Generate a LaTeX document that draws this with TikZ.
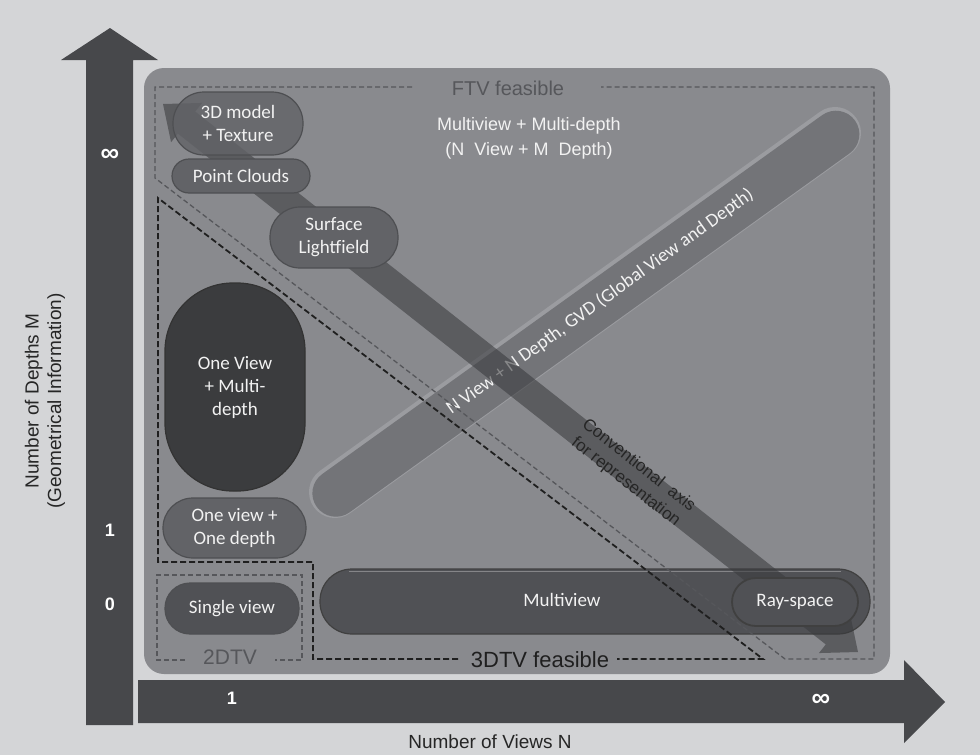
\documentclass[tikz,border=0pt]{standalone}
\usepackage{fontspec}
\setmainfont{Liberation Sans}
\newfontfamily\calib{Carlito}
\usetikzlibrary{calc}
\definecolor{bgc}{HTML}{D4D5D7}
\definecolor{axisc}{HTML}{47484B}
\definecolor{panelc}{HTML}{898A8E}
\definecolor{pillfill}{HTML}{626367}
\definecolor{pilledge}{HTML}{4E4F52}
\definecolor{darkfill}{HTML}{3B3C3E}
\definecolor{barfill}{HTML}{505155}
\definecolor{gvdfill}{HTML}{737478}
\definecolor{gvdedge}{HTML}{9B9CA0}
\definecolor{bandc}{HTML}{3A3B3E}
\definecolor{ftvc}{HTML}{56575B}
\definecolor{txtw}{HTML}{F2F2F2}
\definecolor{labc}{HTML}{262626}
\begin{document}
\begin{tikzpicture}[x=1pt,y=-1pt,
  pill/.style={draw=pilledge, line width=1.2pt, fill=pillfill, inner sep=0pt,
    align=center, text=txtw, font=\calib\fontsize{19}{23}\selectfont},
  ftvline/.style={draw=ftvc, line width=1.3pt, dash pattern=on 5pt off 3pt},
  tdline/.style={draw=black!88, line width=1.8pt, dash pattern=on 6pt off 3pt},
  axisnum/.style={text=white, font=\bfseries\fontsize{18}{20}\selectfont},
  infnum/.style={text=white, font=\bfseries\fontsize{26}{28}\selectfont},
  axlabel/.style={text=labc, font=\fontsize{19}{22.5}\selectfont, align=center}]
\useasboundingbox (0,0) rectangle (980,755);
\fill[bgc] (0,0) rectangle (980,755);

% axes
\fill[axisc] (86,725) -- (86,60) -- (61,60) -- (110,28) -- (158,60) -- (133,60) -- (133,725) -- cycle;
\fill[axisc] (138,680) -- (904,680) -- (904,660) -- (945,702) -- (904,743) -- (904,723) -- (138,723) -- cycle;
\node[infnum] (yinf) at (110,155) {∞};
\node[axisnum] (yone) at (110,530) {1};
\node[axisnum] (yzero) at (110,604) {0};
\node[axisnum] (xone) at (232,698) {1};
\node[infnum] (xinf) at (821,700) {∞};
\node[axlabel] (xlab) at (490,742) {Number of Views N};
\node[axlabel, rotate=90] (ylab) at (45,401) {Number of Depths M\\(Geometrical Information)};

% panel
\fill[panelc, rounded corners=20pt] (144,68) rectangle (890,674);

% multiview bar
\node[draw=black!75, line width=1.2pt, fill=barfill, inner sep=0pt, minimum width=550pt,
  minimum height=65pt, rounded corners=32pt] (mv) at (595,601.5) {};
\draw[white!30!barfill, line width=1.5pt] ([xshift=30pt,yshift=-3pt]mv.north west) -- ([xshift=-30pt,yshift=-3pt]mv.north east);
\node[text=txtw, font=\calib\fontsize{19}{23}\selectfont] (mvt) at (562,600) {Multiview};

% GVD bar
\coordinate (g1) at (335,492);
\coordinate (g2) at (835,133);
\draw[gvdedge, line width=52pt, line cap=round] (g1) -- (g2);
\draw[gvdfill, line width=47pt, line cap=round] ($(g1)!1.5pt!-90:(g2)$) -- ($(g2)!1.5pt!90:(g1)$);
\node[rotate=35.7, text=txtw, font=\calib\fontsize{19}{23}\selectfont] (gvdt) at ($(g1)!0.53!(g2)$)
  {N View + N Depth, GVD (Global View and Depth)};

% conventional axis band
\coordinate (ca1) at (163,104);
\coordinate (ca2) at (858,652);
\coordinate (h1) at ($(ca1)!30pt!(ca2)$);
\coordinate (h2) at ($(ca2)!30pt!(ca1)$);
\fill[bandc, opacity=0.58] (ca1) -- ($(h1)!25pt!90:(ca2)$) -- ($(h1)!14pt!90:(ca2)$)
  -- ($(h2)!14pt!90:(ca2)$) -- ($(h2)!25pt!90:(ca2)$) -- (ca2)
  -- ($(h2)!25pt!-90:(ca2)$) -- ($(h2)!14pt!-90:(ca2)$)
  -- ($(h1)!14pt!-90:(ca2)$) -- ($(h1)!25pt!-90:(ca2)$) -- cycle;
\node[rotate=-38.26, align=center, text=labc, font=\fontsize{17}{21}\selectfont] (cat)
  at ($(ca1)!0.675!(ca2)$) {Conventional~ axis\\for representation};

% nodes
\node[pill, fill opacity=0.82, text opacity=1, minimum width=130pt, minimum height=63pt, rounded corners=31pt] (tdm) at (238,123.5) {3D model\\+ Texture};
\node[pill, minimum width=138pt, minimum height=34pt, rounded corners=17pt] (pc) at (241,176) {Point Clouds};
\node[pill, minimum width=128pt, minimum height=61pt, rounded corners=30pt] (sl) at (334,237.5) {Surface\\Lightfield};
\node[pill, fill=darkfill, draw=black!80, minimum width=140pt, minimum height=208pt, rounded corners=68pt] (ovmd) at (235,387) {One View\\+ Multi-\\depth};
\node[pill, minimum width=143pt, minimum height=60pt, rounded corners=30pt] (ovod) at (234.5,528) {One view +\\One depth};
\node[pill, fill=barfill, minimum width=134pt, minimum height=51pt, rounded corners=25pt] (sv) at (232,608.5) {Single view};
\node[pill, fill=barfill, draw=black!75, line width=1.8pt, minimum width=126pt, minimum height=48pt, rounded corners=24pt] (rs) at (795,602) {Ray-space};

% FTV feasible region
\draw[ftvline] (412,87) -- (155,87) -- (155,178) -- (785,659) -- (874,659) -- (874,87) -- (601,87);
\node[text=ftvc, font=\fontsize{20}{24}\selectfont] (ftvt) at (508,88) {FTV feasible};

% 3DTV feasible region
\draw[tdline] (458,659) -- (313,659) -- (313,562) -- (158,562) -- (158,198) -- (763,659) -- (617,659);
\node[text=black!88, font=\fontsize{22}{26}\selectfont] (tdt) at (540,660) {3DTV feasible};

% 2DTV region
\draw[ftvline] (185,660) -- (157,660) -- (157,575) -- (302,575) -- (302,660) -- (275,660);
\node[text=ftvc, font=\fontsize{21}{25}\selectfont] (twt) at (230,657) {2DTV};

% multiview + multi-depth text
\node[text=txtw, align=center, font=\fontsize{18}{25}\selectfont] (mvmd) at (529,138) {Multiview + Multi-depth\\(N\ \ View + M\ \ Depth)};
\end{tikzpicture}
\end{document}
